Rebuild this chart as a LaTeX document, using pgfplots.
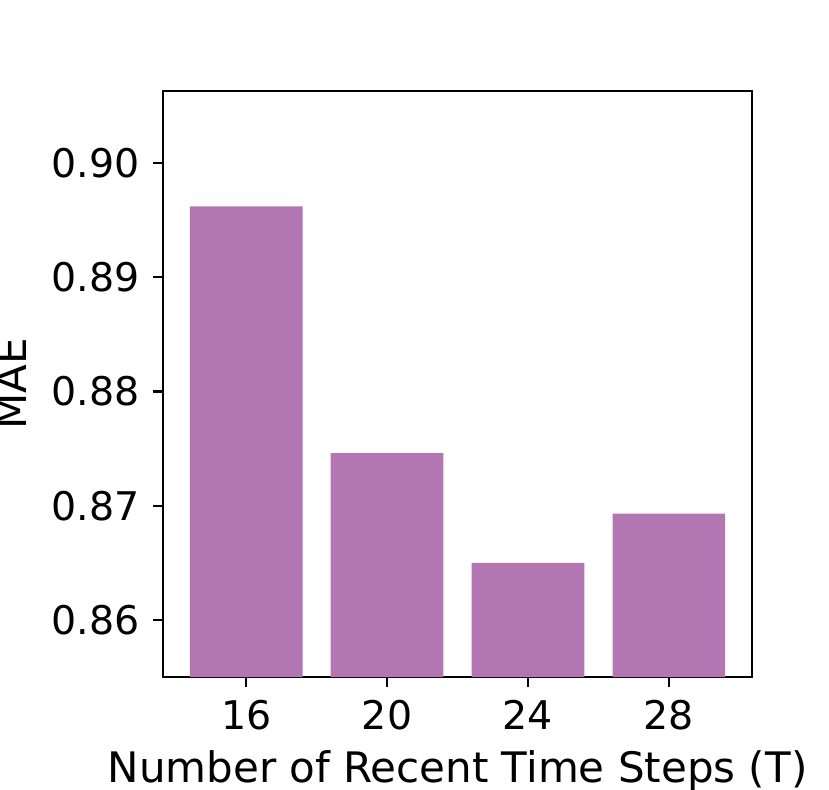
\documentclass[border=0pt]{standalone}
\usepackage{pgfplots}
\pgfplotsset{compat=1.18}
\usetikzlibrary{calc}
\usepackage{fontspec}
\setmainfont{DejaVu Sans}
\definecolor{barc}{RGB}{178,118,178}
\begin{document}
\fontsize{19.75pt}{23pt}\selectfont
\begin{tikzpicture}
\begin{axis}[
  name=ax,
  scale only axis,
  width=294.5pt, height=293pt,
  xmin=-0.59, xmax=3.59,
  ymin=0.8550, ymax=0.9063,
  xtick={0,1,2,3},
  xticklabels={16,20,24,28},
  ytick={0.86,0.87,0.88,0.89,0.90},
  yticklabel style={/pgf/number format/.cd,fixed,fixed zerofill,precision=2},
  /pgf/number format/assume math mode=true,
  tick align=outside,
  tick pos=left,
  major tick length=4.9pt,
  every tick/.style={black, line width=1.1pt},
  axis line style={line width=1.1pt},
  ticklabel style={font=\fontsize{19.75pt}{23pt}\selectfont},
  label style={font=\fontsize{21pt}{24pt}\selectfont},
  xlabel={Number of Recent Time Steps (T)},
  ylabel={MAE},
  xlabel style={yshift=3pt},
  ylabel style={yshift=-1pt},
  ybar,
  bar width=0.8,
  clip=true,
]
\addplot[fill=barc, draw=none] coordinates {(0,0.8962) (1,0.8746) (2,0.8650) (3,0.8693)};
\end{axis}
\pgfresetboundingbox
\useasboundingbox ($(ax.south west)+(-81.5pt,-56pt)$) rectangle ($(ax.north east)+(38.5pt,45.5pt)$);
\end{tikzpicture}
\end{document}
